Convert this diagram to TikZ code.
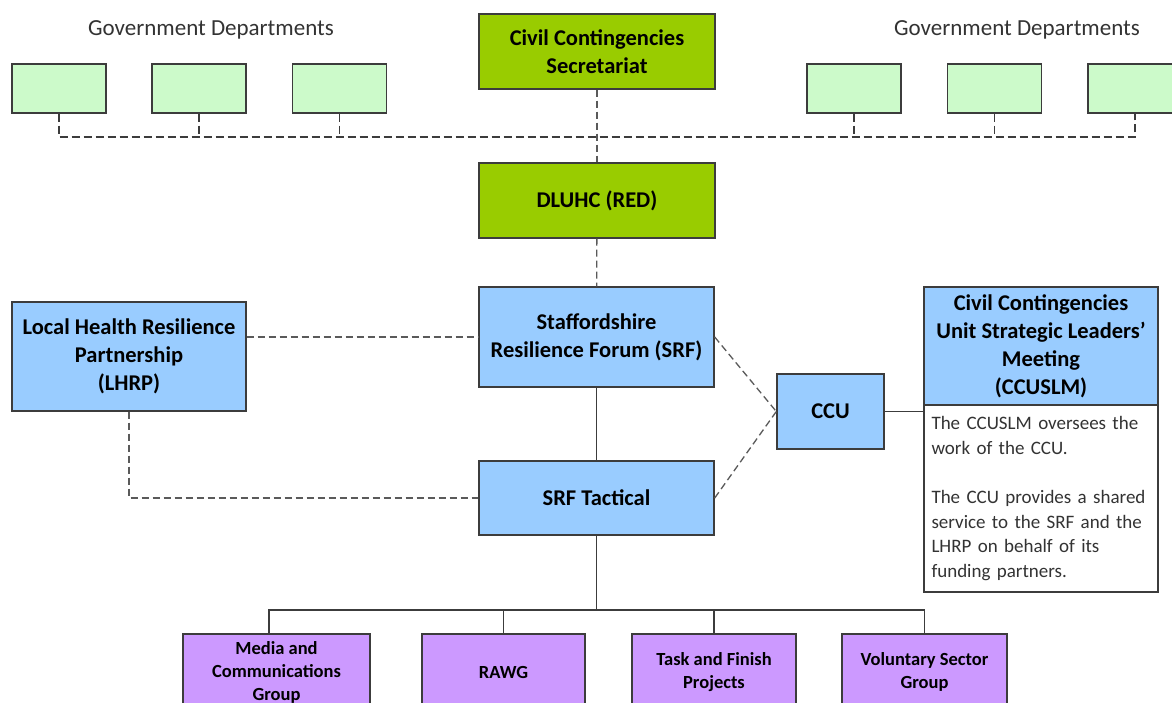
\documentclass[tikz,border=0pt]{standalone}
\usepackage{fontspec}
\setmainfont{Carlito}
\definecolor{gdgreen}{HTML}{CCFACA}
\definecolor{olivegreen}{HTML}{99CC00}
\definecolor{skyblue}{HTML}{99CCFF}
\definecolor{lilac}{HTML}{CC99FF}
\definecolor{edgegray}{HTML}{3C3C3C}
\definecolor{dashgray}{HTML}{5A5A5A}
\definecolor{textgray}{HTML}{333333}
\tikzset{
  basebox/.style={draw=edgegray, line width=1.4pt, inner sep=2pt, align=center, text=black},
  labelbox/.style={basebox, font=\bfseries\fontsize{22.5}{28}\selectfont},
  gdbox/.style={basebox, fill=gdgreen, minimum width=94, minimum height=49},
  pbox/.style={basebox, fill=lilac, minimum height=76, font=\bfseries\fontsize{18.5}{23}\selectfont},
  notebox/.style={basebox, fill=white, align=left, text width=219, inner xsep=7.5pt, font=\fontsize{19}{24.7}\selectfont, text=textgray},
  gtxt/.style={font=\fontsize{23}{27}\selectfont, text=textgray},
  dashline/.style={draw=dashgray, line width=1.3pt, dash pattern=on 7pt off 4pt},
  busline/.style={draw=edgegray, line width=1.4pt, dash pattern=on 8pt off 4pt},
  solidline/.style={draw=edgegray, line width=1.4pt}
}
\begin{document}
\begin{tikzpicture}[x=1pt,y=-1pt]
\useasboundingbox (0,0) rectangle (1172,702);
\clip (0,0) rectangle (1172,702);
\fill[white] (0,0) rectangle (1172,702);

% Government departments
\node[gtxt] (gdl) at (211,30) {Government Departments};
\node[gtxt] (gdr) at (1017,30) {Government Departments};
\node[gdbox] (gd1) at (59,88.5) {};
\node[gdbox] (gd2) at (199,88.5) {};
\node[gdbox] (gd3) at (339.5,88.5) {};
\node[gdbox] (gd4) at (854,88.5) {};
\node[gdbox] (gd5) at (994.5,88.5) {};
\node[gdbox] (gd6) at (1135,88.5) {};

% Main boxes
\node[labelbox, fill=olivegreen, minimum width=236, minimum height=75] (ccs) at (597,51.5) {Civil Contingencies\\Secretariat};
\node[labelbox, fill=olivegreen, minimum width=236, minimum height=75] (dluhc) at (597,200.5) {DLUHC (RED)};
\node[labelbox, fill=skyblue, minimum width=235, minimum height=100] (srf) at (596.5,337) {Staffordshire\\Resilience Forum (SRF)};
\node[labelbox, fill=skyblue, minimum width=235, minimum height=74] (tac) at (596.5,498) {SRF Tactical};
\node[labelbox, fill=skyblue, minimum width=234, minimum height=109] (lhrp) at (129,356.5) {Local Health Resilience\\Partnership\\(LHRP)};
\node[labelbox, fill=skyblue, minimum width=107, minimum height=75] (ccu) at (830.5,411.5) {CCU};
\node[labelbox, fill=skyblue, minimum width=234, minimum height=118] (head) at (1041,346) {Civil Contingencies\\Unit Strategic Leaders’\\Meeting\\(CCUSLM)};
\node[notebox, minimum width=234, minimum height=187] (note) at (1041,498.5) {The CCUSLM oversees the\\work of the CCU.\\[24.7pt]The CCU provides a shared\\service to the SRF and the\\LHRP on behalf of its\\funding partners.};

% Purple groups
\node[pbox, minimum width=187] (p1) at (276.5,672) {Media and\\Communications\\Group};
\node[pbox, minimum width=163] (p2) at (503.5,672) {RAWG};
\node[pbox, minimum width=164] (p3) at (714,672) {Task and Finish\\Projects};
\node[pbox, minimum width=165] (p4) at (924.5,672) {Voluntary Sector\\Group};

% Bus connectors (government departments)
\coordinate (bus) at (0,137);
\draw[busline] (gd1.south) -- (gd1.south |- bus) -- (gd6.south |- bus) -- (gd6.south);
\draw[busline] (gd2.south) -- (gd2.south |- bus);
\draw[busline] (gd3.south) -- (gd3.south |- bus);
\draw[busline] (gd4.south) -- (gd4.south |- bus);
\draw[busline] (gd5.south) -- (gd5.south |- bus);

% Dashed links
\draw[dashline] (ccs) -- (dluhc);
\draw[dashline] (dluhc) -- (srf);
\draw[dashline] (lhrp.east |- srf.west) -- (srf.west);
\draw[dashline] (lhrp.south) |- (tac.west);
\draw[dashline] (srf.east) -- (ccu.west);
\draw[dashline] (tac.east) -- (ccu.west);

% Solid links
\draw[solidline] (srf) -- (tac);
\draw[solidline] (ccu.east) -- (ccu.east -| note.west);
\coordinate (hub) at (0,610);
\draw[solidline] (tac.south) -- (tac.south |- hub);
\draw[solidline] ([xshift=-7.5pt]p1.north) |- (p4.north |- hub) -- (p4.north);
\draw[solidline] (p2.north) -- (p2.north |- hub);
\draw[solidline] (p3.north) -- (p3.north |- hub);
\end{tikzpicture}
\end{document}
